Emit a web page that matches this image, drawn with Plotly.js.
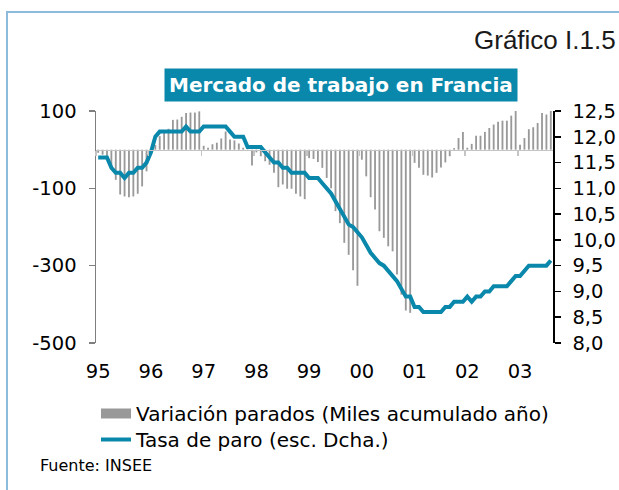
<!DOCTYPE html>
<html><head><meta charset="utf-8">
<script src="https://cdn.plot.ly/plotly-3.0.1.min.js"></script>
<style>
html,body{margin:0;padding:0;background:#fff;overflow:hidden;width:619px;height:490px;}
#frame{position:absolute;left:6px;top:11px;width:700px;height:600px;border-left:2px solid #8dbbdb;border-top:2px solid #8dbbdb;}
#chart{position:absolute;left:0;top:0;width:619px;height:490px;}
</style></head><body>
<div id="frame"></div>
<div id="chart"></div>
<script>
// Year tick labels (Jan 1995 .. Aug 2003, monthly data)
const yearLabels = ['95','96','97','98','99','00','01','02','03'];

// Variación parados (miles, acumulado año) - monthly
const paradosVar = [
  -8, -13, -26, -52, -78, -116, -121, -123, -121, -114, -95, -56,
  -13, 12, 35, 45, 54, 77, 78, 85, 95, 96, 96, 99,
  10, 5, 14, 18, 29, 47, 26, 24, 16, 5, -3, -41,
  -7, -17, -30, -39, -60, -97, -90, -101, -101, -114, -121, -128,
  -22, -24, -32, -47, -73, -100, -159, -190, -241, -272, -312, -352,
  -26, -69, -123, -155, -211, -228, -250, -263, -323, -375, -416, -422,
  -34, -47, -65, -67, -72, -60, -46, -33, -17, 4, 30, 46,
  5, 15, 36, 36, 46, 56, 65, 72, 75, 75, 88, 103,
  13, 30, 53, 58, 69, 95, 91, 101
];

// Tasa de paro (%), right axis - monthly
const tasaParo = [
  11.6, 11.6, 11.6, 11.4, 11.3, 11.3, 11.2, 11.3, 11.3, 11.4, 11.4, 11.5,
  11.7, 12.0, 12.1, 12.1, 12.1, 12.1, 12.1, 12.1, 12.2, 12.1, 12.1, 12.1,
  12.2, 12.2, 12.2, 12.2, 12.2, 12.2, 12.1, 12.0, 12.0, 12.0, 11.8, 11.8,
  11.8, 11.8, 11.7, 11.6, 11.5, 11.5, 11.4, 11.4, 11.3, 11.3, 11.3, 11.3,
  11.2, 11.2, 11.2, 11.1, 11.0, 10.9, 10.75, 10.6, 10.45, 10.3, 10.25, 10.15,
  10.05, 9.9, 9.75, 9.65, 9.55, 9.5, 9.4, 9.3, 9.2, 9.05, 8.9, 8.9,
  8.7, 8.7, 8.6, 8.6, 8.6, 8.6, 8.6, 8.7, 8.7, 8.8, 8.8, 8.8,
  8.9, 8.8, 8.9, 8.9, 9.0, 9.0, 9.1, 9.1, 9.1, 9.1, 9.2, 9.3,
  9.3, 9.4, 9.5, 9.5, 9.5, 9.5, 9.5, 9.6
];

const leftTickVals = [100, -100, -300, -500];
const leftTickText = ['100', '-100', '-300', '-500'];
const leftRange = [-500, 100];
const rightRange = [8, 12.5];

const months = paradosVar.map((_, i) => i);
const xRange = [-0.5, months.length - 0.5];
const yearStartIdx = yearLabels.map((_, i) => i * 12);
const yearBoundary = yearLabels.map((_, i) => i * 12 - 0.5);

const BAR = '#999999';
const TEAL = '#0a88ab';

const traces = [
  {type:'bar', x:months, y:paradosVar, marker:{color:BAR}, width:0.42,
   showlegend:false, hoverinfo:'skip'},
  {type:'scatter', mode:'lines', x:[null], y:[null], line:{color:BAR, width:14},
   name:'Variación parados (Miles acumulado año)', legend:'legend', hoverinfo:'skip'},
  {type:'scatter', mode:'lines', x:months, y:tasaParo, yaxis:'y2',
   line:{color:TEAL, width:4}, name:'Tasa de paro (esc. Dcha.)', legend:'legend2'},
  {type:'scatter', mode:'lines', x:[null], y:[null], xaxis:'x2', showlegend:false, hoverinfo:'skip'}
];

const legendFont = {size:20};

const layout = {
  width:619, height:490,
  margin:{l:96, r:66, t:111, b:147, pad:0},
  paper_bgcolor:'rgba(0,0,0,0)', plot_bgcolor:'rgba(0,0,0,0)',
  separators:',.',
  font:{family:'DejaVu Sans, Verdana, sans-serif', size:19.5, color:'#000'},
  xaxis:{range:xRange, tickmode:'array', tickvals:yearStartIdx, ticktext:yearLabels,
    showline:false, showgrid:false, zeroline:false, ticks:'outside', ticklen:11,
    tickcolor:'rgba(0,0,0,0)', fixedrange:true},
  xaxis2:{overlaying:'x', anchor:'free', position:(0 - leftRange[0]) / (leftRange[1] - leftRange[0]),
    range:xRange, tickmode:'array', tickvals:yearBoundary, ticks:'outside', ticklen:5,
    tickcolor:'#c4c4c4', tickwidth:1.5, showticklabels:false, showline:true,
    linecolor:'#c4c4c4', linewidth:1.5, showgrid:false, zeroline:false},
  yaxis:{range:leftRange, tickmode:'array', tickvals:leftTickVals, ticktext:leftTickText,
    showline:true, linecolor:'#7f7f7f', linewidth:1.5, ticks:'outside', ticklen:6,
    tickcolor:'#7f7f7f', tickwidth:1.5, showgrid:false, zeroline:false, ticklabelstandoff:8},
  yaxis2:{overlaying:'y', side:'right', range:rightRange, tick0:8, dtick:0.5, tickformat:'.1f',
    showline:true, linecolor:'#000', linewidth:1.5, ticks:'outside', ticklen:6,
    tickcolor:'#000', tickwidth:1.5, showgrid:false, zeroline:false, ticklabelstandoff:8},
  legend:{x:0.0, xanchor:'left', y:-0.2198, yanchor:'top', font:legendFont,
    bgcolor:'rgba(0,0,0,0)'},
  legend2:{x:0.0, xanchor:'left', y:-0.3319, yanchor:'top', font:legendFont,
    bgcolor:'rgba(0,0,0,0)'},
  annotations:[
    {text:'Mercado de trabajo en Francia', xref:'paper', yref:'paper', x:0.537, y:1.114,
     xanchor:'center', yanchor:'middle', showarrow:false, bgcolor:TEAL, borderpad:4,
     font:{family:'DejaVu Sans, Verdana, sans-serif', size:20, color:'#fff', weight:'bold'}},
    {text:'Gráfico I.1.5', xref:'paper', yref:'paper', x:1.143, y:1.306,
     xanchor:'right', yanchor:'middle', showarrow:false,
     font:{family:'Liberation Sans, Arial, sans-serif', size:26, color:'#1a1a1a'}},
    {text:'Fuente: INSEE', xref:'paper', yref:'paper', x:-0.126, y:-0.526,
     xanchor:'left', yanchor:'middle', showarrow:false,
     font:{family:'DejaVu Sans, Verdana, sans-serif', size:16, color:'#000'}}
  ]
};

Plotly.newPlot('chart', traces, layout, {staticPlot:true, displayModeBar:false});
</script>
</body></html>
